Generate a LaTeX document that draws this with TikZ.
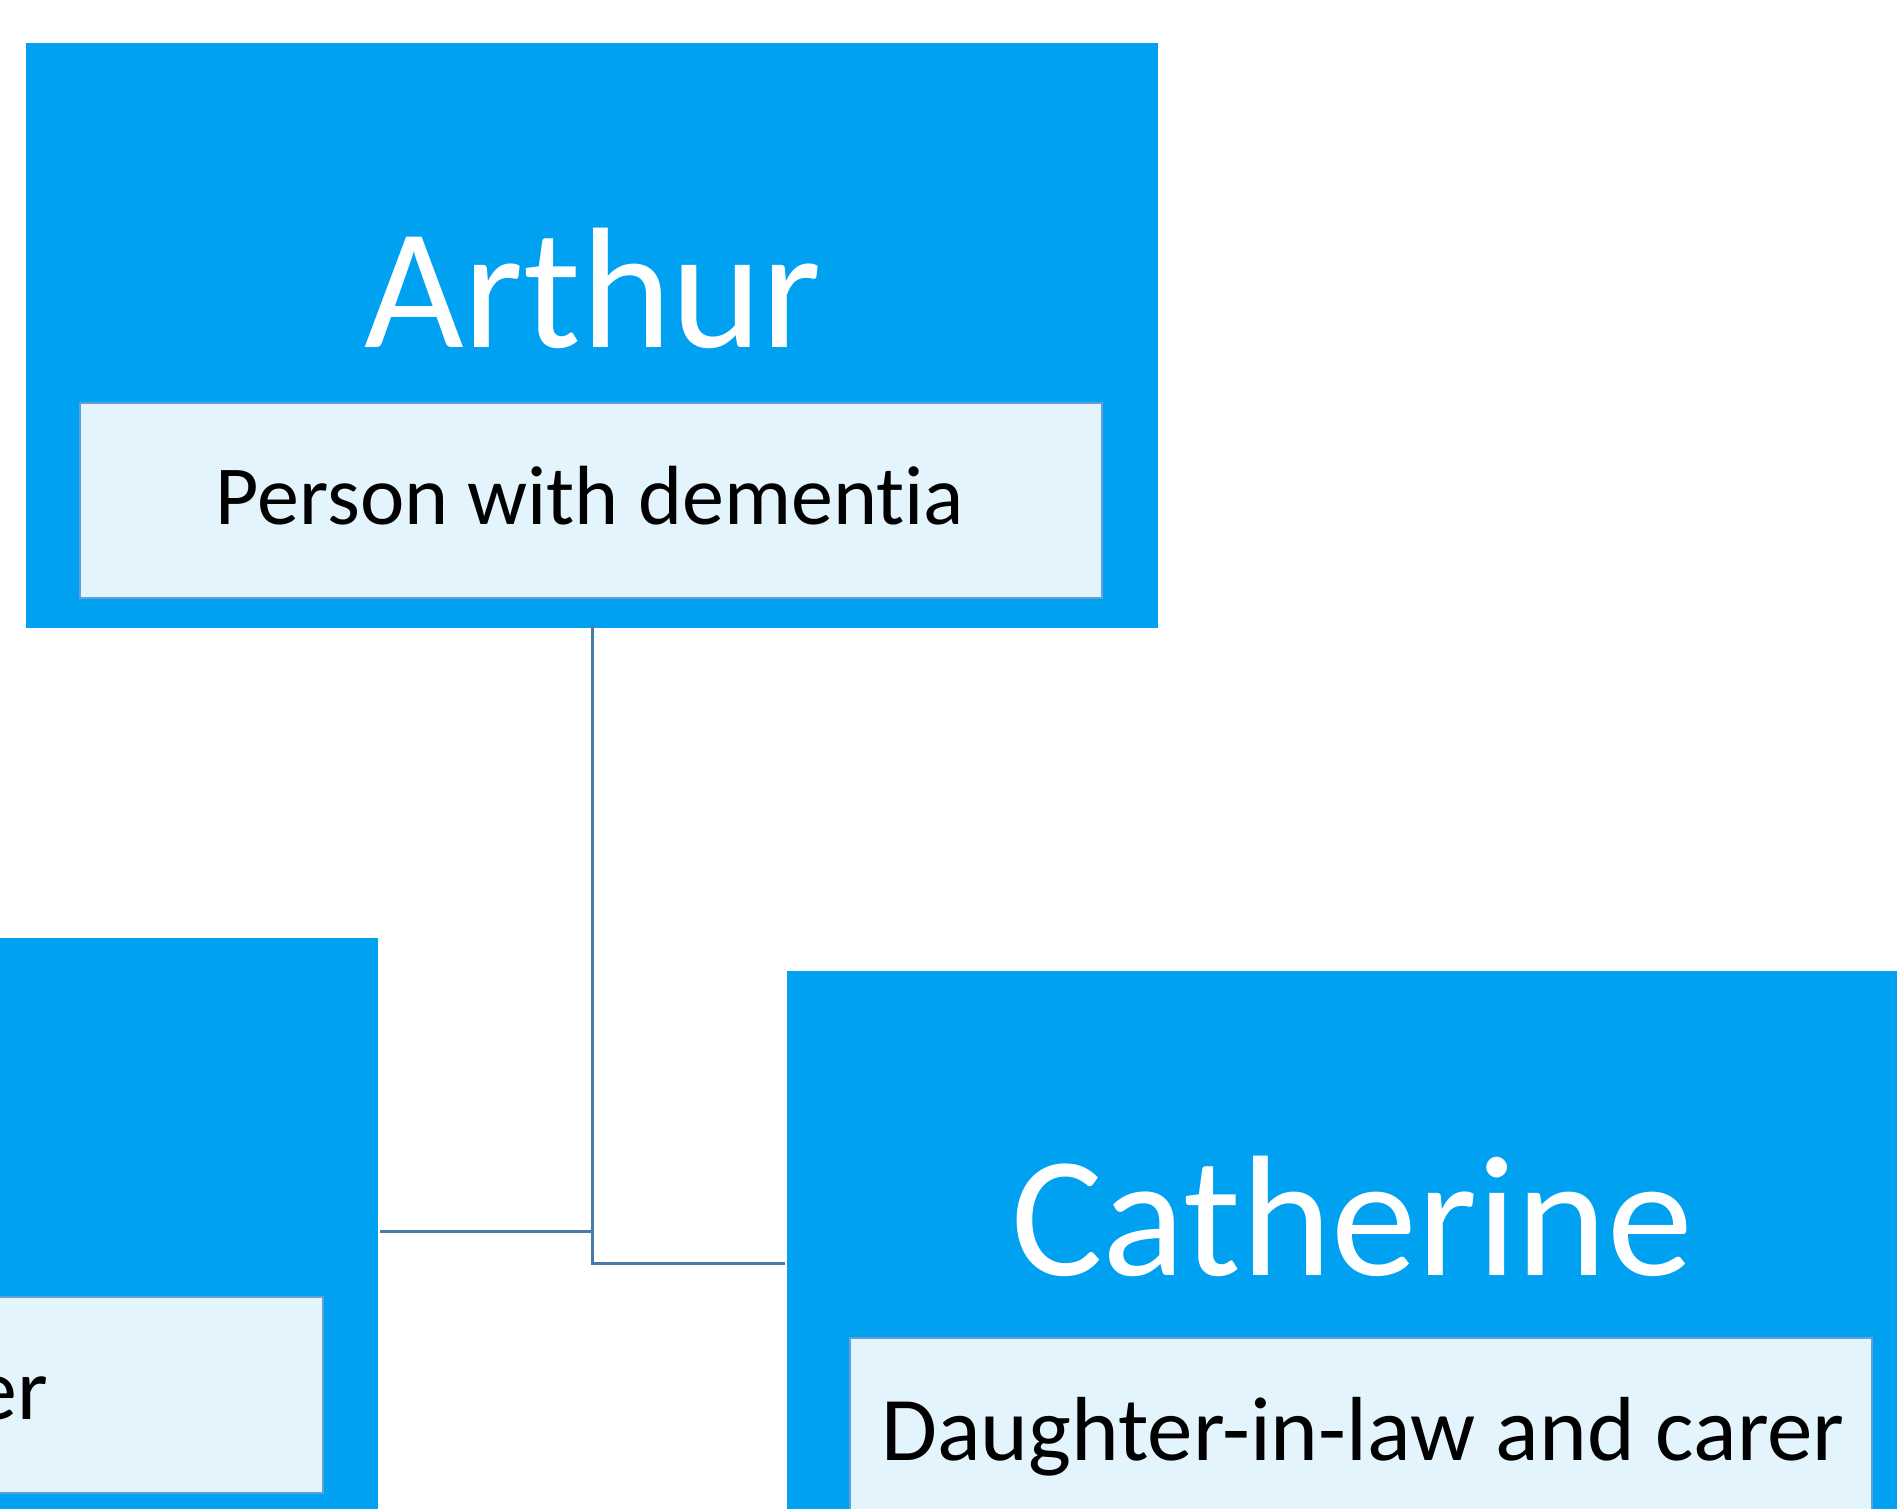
\documentclass[tikz,border=0pt]{standalone}
\usepackage{fontspec}
\setmainfont{Carlito}[Ligatures=NoCommon]
\definecolor{outerblue}{RGB}{0,161,240}
\definecolor{innerblue}{RGB}{227,244,252}
\definecolor{innerline}{RGB}{100,160,215}
\definecolor{connline}{RGB}{72,122,170}
\begin{document}
\begin{tikzpicture}[x=1pt,y=-1pt,
  outerbox/.style={rectangle,fill=outerblue,draw=none,inner sep=0pt},
  innerbox/.style={rectangle,fill=innerblue,draw=innerline,line width=2pt,inner sep=0pt},
  titletext/.style={text=white,inner sep=0pt,font=\fontsize{172}{200}\selectfont},
  roletext/.style={text=black,inner sep=0pt},
  conn/.style={draw=connline,line width=3pt}]
\useasboundingbox (0,0) rectangle (1897,1509);
\clip (0,0) rectangle (1897,1509);
% Arthur
\node[outerbox,minimum width=1132pt,minimum height=585pt] (arthur) at (592,335.5) {};
\node[titletext,anchor=base] (arthurname) at (593,347) {Arthur};
\node[innerbox,minimum width=1022pt,minimum height=195pt] (arthurrole) at (590.5,500.5) {};
\node[roletext,anchor=base,font=\fontsize{84}{100}\selectfont] (arthurroletext) at (590,524) {Person with dementia};
% Left box (mostly outside the picture)
\node[outerbox,minimum width=1133pt,minimum height=600pt] (leftbox) at (-188.5,1238) {};
\node[innerbox,minimum width=1022pt,minimum height=196pt] (leftrole) at (-188.5,1395) {};
\node[roletext,anchor=base east,font=\fontsize{88}{100}\selectfont] (leftroletext) at (48,1419) {er};
% Catherine
\node[outerbox,minimum width=1148pt,minimum height=600pt] (cath) at (1361,1271) {};
\node[titletext,anchor=base] (cathname) at (1352,1275) {Catherine};
\node[innerbox,minimum width=1022pt,minimum height=196pt] (cathrole) at (1361,1436) {};
\node[roletext,anchor=base,font=\fontsize{91}{110}\selectfont] (cathroletext) at (1363,1460) {Daughter-in-law and carer};
% connectors
\coordinate (j1) at (592,1231);
\coordinate (j2) at (592,1263);
\coordinate (lstart) at (380,1231);
\coordinate (rend) at (785,1263);
\draw[conn] ([yshift=3pt]arthur.south) -- (j2) -- (rend);
\draw[conn] (lstart) -- (j1);
\end{tikzpicture}
\end{document}
